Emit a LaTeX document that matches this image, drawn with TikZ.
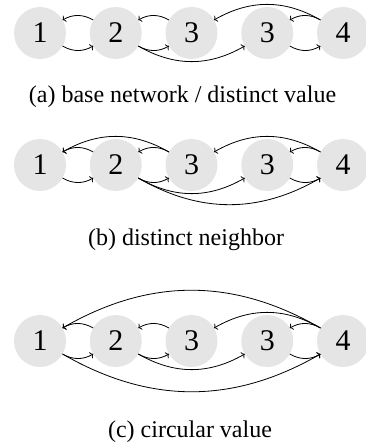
\documentclass[tikz,border=0pt]{standalone}
\usepackage{fontspec}
\setmainfont{Liberation Serif}
\usetikzlibrary{arrows.meta}
\newcommand\upE[2]{\draw[arcstyle] (#1.150) to[out=150,in=30] (#2.30);}
\newcommand\dnE[2]{\draw[arcstyle] (#1.-30) to[out=-30,in=210] (#2.210);}
\begin{document}
\begin{tikzpicture}[x=1pt,y=-1pt,
  vtx/.style={circle, fill=black!10, draw=none, minimum size=52pt, inner sep=0pt, outer sep=0pt, font=\fontsize{30}{30}\selectfont},
  captxt/.style={font=\fontsize{24}{24}\selectfont, inner sep=0pt, anchor=base},
  arcstyle/.style={line width=0.8pt, -{To[length=3pt,width=7pt]}}]
\useasboundingbox (0,0) rectangle (366,447);
% row a
\foreach \n/\x/\t in {1/40/1, 2/115.75/2, 3/191.5/3, 4/267.25/3, 5/343/4}
  \node[vtx] (a\n) at (\x,33) {\t};
\upE{a2}{a1} \dnE{a1}{a2}
\upE{a3}{a2} \dnE{a2}{a3}
\upE{a5}{a4} \dnE{a4}{a5}
\upE{a5}{a3} \dnE{a2}{a4}
\node[captxt] (capa) at (182.5,102) {(a) base network / distinct value};
% row b
\foreach \n/\x/\t in {1/40/1, 2/115.75/2, 3/191.5/3, 4/267.25/3, 5/343/4}
  \node[vtx] (b\n) at (\x,165) {\t};
\upE{b2}{b1} \upE{b3}{b1} \dnE{b1}{b2}
\upE{b3}{b2} \dnE{b2}{b3}
\dnE{b2}{b4} \dnE{b2}{b5}
\upE{b5}{b3} \upE{b5}{b4} \dnE{b4}{b5}
\node[captxt] (capb) at (186,245) {(b) distinct neighbor};
% row c
\foreach \n/\x/\t in {1/40/1, 2/115.75/2, 3/191.5/3, 4/267.25/3, 5/343/4}
  \node[vtx] (c\n) at (\x,341) {\t};
\upE{c5}{c1} \upE{c2}{c1} \dnE{c1}{c2}
\upE{c3}{c2} \dnE{c2}{c3}
\upE{c5}{c3} \upE{c5}{c4}
\dnE{c2}{c4} \dnE{c4}{c5} \dnE{c1}{c5}
\node[captxt] (capc) at (190,437) {(c) circular value};
\end{tikzpicture}
\end{document}
